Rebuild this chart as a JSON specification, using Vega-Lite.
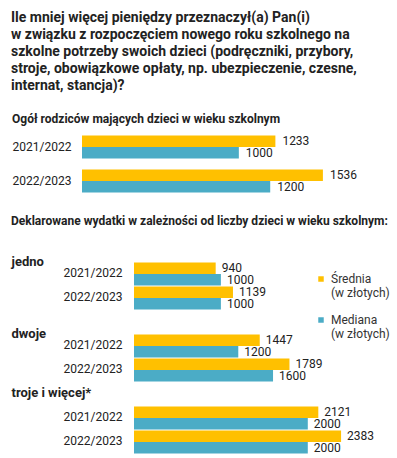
{
  "$schema": "https://vega.github.io/schema/vega-lite/v6.json",
  "padding": {"left": 11, "top": 11, "right": 4, "bottom": 0},
  "background": "white",
  "title": {
    "text": [
      "Ile mniej więcej pieniędzy przeznaczył(a) Pan(i)",
      "w związku z rozpoczęciem nowego roku szkolnego na",
      "szkolne potrzeby swoich dzieci (podręczniki, przybory,",
      "stroje, obowiązkowe opłaty, np. ubezpieczenie, czesne,",
      "internat, stancja)?"
    ],
    "anchor": "start",
    "font": "Roboto",
    "fontSize": 14,
    "fontWeight": "bold",
    "lineHeight": 17,
    "color": "#222222",
    "offset": 20
  },
  "datasets": {
    "overall": [
      {"year": "2021/2022", "measure": "Średnia", "value": 1233},
      {"year": "2021/2022", "measure": "Mediana", "value": 1000},
      {"year": "2022/2023", "measure": "Średnia", "value": 1536},
      {"year": "2022/2023", "measure": "Mediana", "value": 1200}
    ],
    "bychild": [
      {"group": "jedno", "year": "2021/2022", "measure": "Średnia", "value": 940},
      {"group": "jedno", "year": "2021/2022", "measure": "Mediana", "value": 1000},
      {"group": "jedno", "year": "2022/2023", "measure": "Średnia", "value": 1139},
      {"group": "jedno", "year": "2022/2023", "measure": "Mediana", "value": 1000},
      {"group": "dwoje", "year": "2021/2022", "measure": "Średnia", "value": 1447},
      {"group": "dwoje", "year": "2021/2022", "measure": "Mediana", "value": 1200},
      {"group": "dwoje", "year": "2022/2023", "measure": "Średnia", "value": 1789},
      {"group": "dwoje", "year": "2022/2023", "measure": "Mediana", "value": 1600},
      {"group": "troje i więcej*", "year": "2021/2022", "measure": "Średnia", "value": 2121},
      {"group": "troje i więcej*", "year": "2021/2022", "measure": "Mediana", "value": 2000},
      {"group": "troje i więcej*", "year": "2022/2023", "measure": "Średnia", "value": 2383},
      {"group": "troje i więcej*", "year": "2022/2023", "measure": "Mediana", "value": 2000}
    ]
  },
  "spacing": 17,
  "vconcat": [
    {
      "data": {"name": "overall"},
      "title": {
        "text": "Ogół rodziców mających  dzieci w wieku szkolnym",
        "anchor": "start",
        "fontSize": 12,
        "fontWeight": "bold",
        "offset": 4
      },
      "width": 246,
      "height": 68,
      "encoding": {
        "y": {
          "field": "year",
          "type": "nominal",
          "sort": ["2021/2022", "2022/2023"],
          "scale": {"paddingInner": 0.32, "paddingOuter": 0.16},
          "axis": {"title": null, "labelAlign": "left", "labelPadding": 122}
        },
        "yOffset": {
          "field": "measure",
          "type": "nominal",
          "sort": ["Średnia", "Mediana"],
          "scale": {"paddingInner": 0, "paddingOuter": 0}
        },
        "x": {
          "field": "value",
          "type": "quantitative",
          "scale": {"domain": [0, 1900], "range": [-52, 246]},
          "axis": null
        }
      },
      "layer": [
        {
          "mark": {"type": "bar"},
          "encoding": {
            "color": {
              "field": "measure",
              "type": "nominal",
              "scale": {"domain": ["Średnia", "Mediana"], "range": ["#FFC000", "#4BACC6"]},
              "legend": null
            }
          }
        },
        {
          "mark": {"type": "text", "align": "left", "baseline": "middle", "dx": 7, "fontSize": 12, "color": "#222222"},
          "encoding": {"text": {"field": "value", "type": "quantitative", "format": "d"}}
        }
      ]
    },
    {
      "data": {"name": "bychild"},
      "transform": [{"calculate": "datum.group + '|' + datum.year", "as": "key"}],
      "title": {
        "text": "Deklarowane wydatki w zależności od liczby dzieci w wieku szkolnym:",
        "anchor": "start",
        "fontSize": 12,
        "fontWeight": "bold",
        "offset": 9
      },
      "width": 252,
      "height": 216,
      "encoding": {
        "y": {
          "field": "key",
          "type": "nominal",
          "scale": {
            "domain": [
              "jedno", "jedno|2021/2022", "jedno|2022/2023",
              "dwoje", "dwoje|2021/2022", "dwoje|2022/2023",
              "troje i więcej*", "troje i więcej*|2021/2022", "troje i więcej*|2022/2023"
            ],
            "paddingInner": 0.125,
            "paddingOuter": 0.0625
          },
          "axis": {
            "title": null,
            "labelExpr": "indexof(datum.value, '|') >= 0 ? split(datum.value, '|')[1] : datum.value",
            "labelAlign": {"condition": {"test": "indexof(datum.value, '|') < 0", "value": "left"}, "value": "right"},
            "labelPadding": {"condition": {"test": "indexof(datum.value, '|') < 0", "value": 123}, "value": 12},
            "labelFontWeight": {"condition": {"test": "indexof(datum.value, '|') < 0", "value": "bold"}, "value": "normal"},
            "labelFontSize": {"condition": {"test": "indexof(datum.value, '|') < 0", "value": 13}, "value": 12},
            "labelOffset": {"condition": {"test": "datum.value === 'jedno' || datum.value === 'dwoje'", "value": 12.5}, "value": 0}
          }
        },
        "yOffset": {
          "field": "measure",
          "type": "nominal",
          "sort": ["Średnia", "Mediana"],
          "scale": {"paddingInner": 0, "paddingOuter": 0}
        },
        "x": {
          "field": "value",
          "type": "quantitative",
          "scale": {"domain": [0, 2900]},
          "axis": null
        }
      },
      "layer": [
        {
          "mark": {"type": "bar"},
          "encoding": {
            "color": {
              "field": "measure",
              "type": "nominal",
              "scale": {"domain": ["Średnia", "Mediana"], "range": ["#FFC000", "#4BACC6"]},
              "legend": {
                "title": null,
                "orient": "none",
                "legendX": 181,
                "legendY": 36,
                "symbolType": "square",
                "symbolSize": 30,
                "symbolStrokeWidth": 0,
                "labelExpr": "[datum.label, '(w złotych)']",
                "labelFontSize": 12,
                "labelLineHeight": 13,
                "labelColor": "#333333",
                "labelBaseline": "middle",
                "rowPadding": 15
              }
            }
          }
        },
        {
          "mark": {"type": "text", "align": "left", "baseline": "middle", "dx": 6, "fontSize": 12, "color": "#222222"},
          "encoding": {"text": {"field": "value", "type": "quantitative", "format": "d"}}
        }
      ]
    }
  ],
  "resolve": {
    "scale": {"color": "independent"},
    "legend": {"color": "independent"}
  },
  "config": {
    "font": "Roboto",
    "view": {"stroke": null},
    "axis": {
      "domain": false,
      "ticks": false,
      "tickSize": 0,
      "grid": false,
      "labelColor": "#222222",
      "labelFontSize": 12,
      "labelFont": "Roboto"
    },
    "title": {"color": "#222222", "font": "Roboto"}
  }
}
